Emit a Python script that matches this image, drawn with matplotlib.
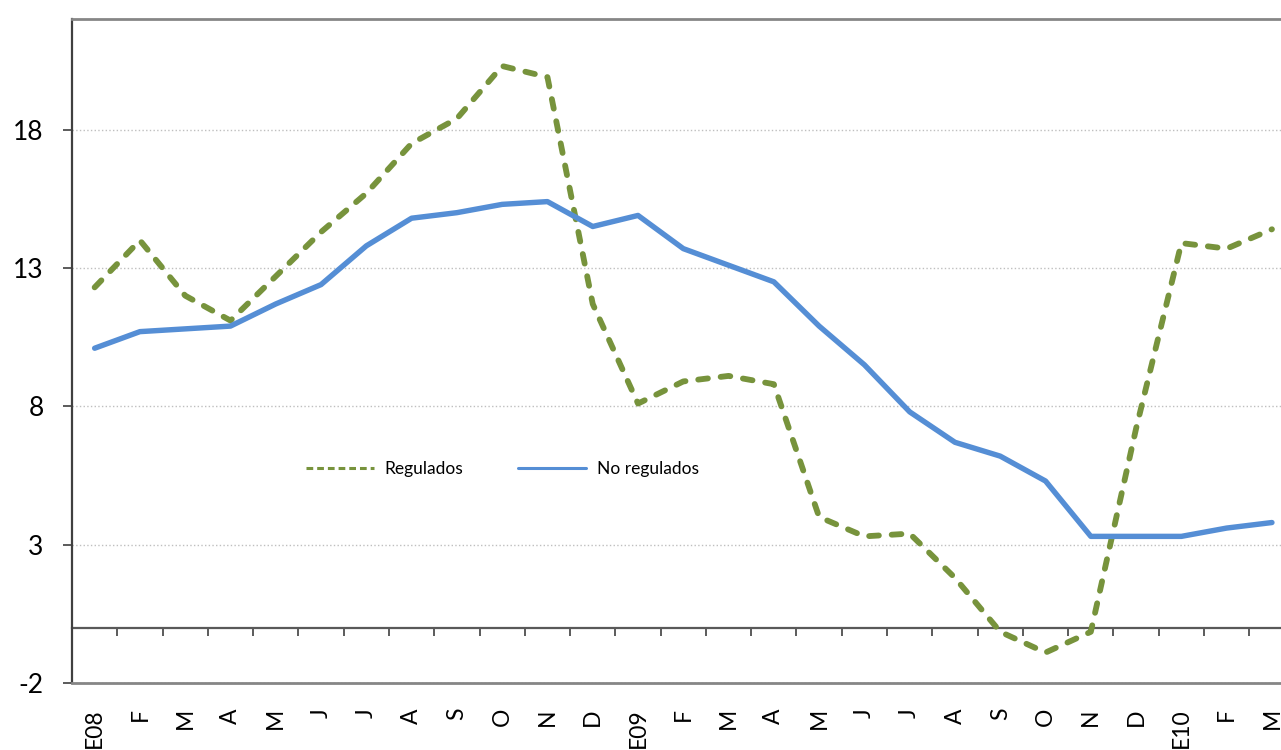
import numpy as np
import matplotlib
matplotlib.use("Agg")
import matplotlib.pyplot as plt

plt.rcParams['font.family'] = ['Lato', 'DejaVu Sans']

cats = ['E08', 'F', 'M', 'A', 'M', 'J', 'J', 'A', 'S', 'O', 'N', 'D',
        'E09', 'F', 'M', 'A', 'M', 'J', 'J', 'A', 'S', 'O', 'N', 'D',
        'E10', 'F', 'M']
regulados = [12.3, 14.0, 12.0, 11.1, 12.7, 14.3, 15.7, 17.5, 18.4, 20.3, 19.9, 11.7,
             8.1, 8.9, 9.1, 8.8, 4.0, 3.3, 3.4, 1.8, -0.15, -0.9, -0.15, 7.2,
             13.9, 13.7, 14.4]
no_regulados = [10.1, 10.7, 10.8, 10.9, 11.7, 12.4, 13.8, 14.8, 15.0, 15.3, 15.4, 14.5,
                14.9, 13.7, 13.1, 12.5, 10.9, 9.5, 7.8, 6.7, 6.2, 5.3, 3.3, 3.3,
                3.3, 3.6, 3.8]
yticks = [-2, 3, 8, 13, 18]

W, H = 1281, 750
fig = plt.figure(figsize=(W / 100, H / 100), dpi=100)
ax = fig.add_axes([72 / W, (H - 683) / H, (W - 72) / W, (683 - 19) / H])

x = np.arange(len(cats))
green = '#77933C'
blue = '#558ED5'

ax.plot(x, regulados, color=green, lw=4.2, linestyle=(0, (1.67, 2.2)),
        dash_capstyle='round', solid_joinstyle='round', label='Regulados')
ax.plot(x, no_regulados, color=blue, lw=3.9, solid_capstyle='round',
        solid_joinstyle='round', label='No regulados')

ymin, ymax = -2, 22
ax.set_ylim(ymin, ymax)
ax.set_xlim(-0.5, 26.2)

ax.set_yticks(yticks)
ax.set_yticklabels([str(v) for v in yticks])
ax.tick_params(axis='y', direction='out', length=6.5, width=1.2, color='#404040',
               labelsize=19, pad=14)
ax.yaxis.grid(True, linestyle=':', color='#BFBFBF', lw=1)
ax.set_axisbelow(True)

ax.set_xticks(x)
ax.set_xticklabels(cats, rotation=90)
ax.tick_params(axis='x', length=0, labelsize=16.5, pad=18)

for side in ['top', 'bottom']:
    ax.spines[side].set_color('#868686')
    ax.spines[side].set_linewidth(2)
ax.spines['left'].set_color('#404040')
ax.spines['left'].set_linewidth(1.6)
ax.spines['right'].set_visible(False)

# zero axis line with category separators
secax = ax.secondary_xaxis((0 - ymin) / (ymax - ymin))
secax.set_xticks(np.arange(len(cats) - 1) + 0.5)
secax.set_xticklabels([])
secax.tick_params(axis='x', direction='out', length=6, width=1.2, color='#404040')
secax.spines['bottom'].set_color('#595959')
secax.spines['bottom'].set_linewidth(1.6)

leg = ax.legend(loc='center left', bbox_to_anchor=(306 / W, 1 - 469 / H),
                bbox_transform=fig.transFigure, ncol=2, frameon=False,
                fontsize=12.5, handlelength=3.9, handletextpad=0.6,
                columnspacing=3.2, borderaxespad=0, borderpad=0)
for ln in leg.get_lines():
    ln.set_linewidth(2.2)
leg.get_lines()[0].set_linestyle((0, (2.2, 1.3)))
leg.get_lines()[0].set_dash_capstyle('butt')

fig.savefig('out.png', dpi=100)
